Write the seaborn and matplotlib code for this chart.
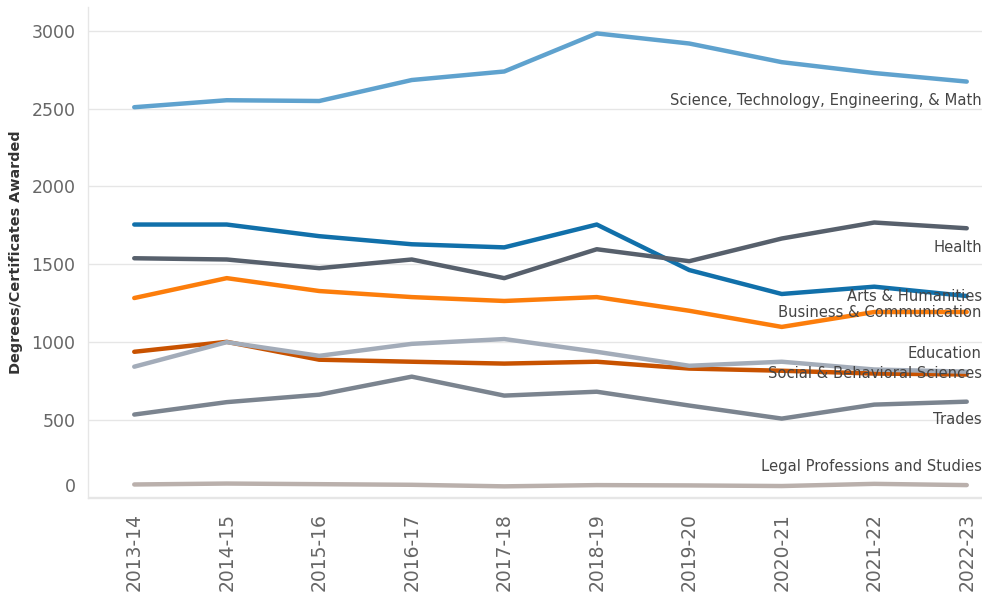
import numpy as np
import pandas as pd
import matplotlib
matplotlib.use("Agg")
import matplotlib.pyplot as plt
import matplotlib.transforms as mtransforms
import seaborn as sns

# Academic years on the x axis
years = ["2013-14", "2014-15", "2015-16", "2016-17", "2017-18",
         "2018-19", "2019-20", "2020-21", "2021-22", "2022-23"]

# Degrees / certificates awarded per field
stem = [2510, 2555, 2550, 2685, 2740, 2985, 2920, 2800, 2730, 2675]
arts = [1755, 1755, 1680, 1628, 1608, 1755, 1462, 1308, 1355, 1295]
health = [1538, 1530, 1474, 1530, 1410, 1596, 1519, 1665, 1768, 1731]
business = [1282, 1410, 1327, 1288, 1263, 1288, 1200, 1096, 1192, 1192]
education = [936, 1000, 885, 872, 860, 872, 828, 814, 796, 790]
social = [840, 998, 910, 987, 1018, 936, 846, 872, 822, 808]
trades = [532, 612, 660, 776, 654, 679, 590, 506, 596, 615]
legal = [82, 88, 84, 80, 70, 78, 76, 72, 86, 78]

fields = ["Science, Technology, Engineering, & Math", "Arts & Humanities", "Health",
          "Business & Communication", "Education", "Social & Behavioral Sciences",
          "Trades", "Legal Professions and Studies"]
series = [stem, arts, health, business, education, social, trades, legal]

colors = ["#5fa2ce", "#1170aa", "#57606c", "#fc7d0b", "#c85200", "#a3acb9",
          "#7b848f", "#bab0ac"]
# label offsets (pixels) from the last point
label_dy = [-19, 0, -19, 0, 21, -2, -18, 19]

rows = []
for f, vals in zip(fields, series):
    for y, v in zip(years, vals):
        rows.append({"year": y, "field": f, "awarded": v})
df = pd.DataFrame(rows)

sns.set_style("white")
plt.rcParams["font.family"] = ["DejaVu Sans"]

fig = plt.figure(figsize=(9.82, 5.92), dpi=100)
# pane runs past the right edge of the image, like the original
ax = fig.add_axes([88 / 982, 1 - 498 / 592, 925 / 982, 491 / 592])

sns.lineplot(data=df, x="year", y="awarded", hue="field", hue_order=fields,
             palette=dict(zip(fields, colors)), linewidth=3.2, ax=ax,
             legend=False, sort=False)

ax.set_xlim(-0.5, 9.5)
ax.set_ylim(-5, 3155)
ax.set_yticks(range(0, 3001, 500))
ax.grid(axis="y", color="#e6e6e6", linewidth=1)
ax.set_axisbelow(True)

for s in ["top", "right"]:
    ax.spines[s].set_visible(False)
for s in ["left", "bottom"]:
    ax.spines[s].set_color("#e6e6e6")
    ax.spines[s].set_linewidth(1)

ax.tick_params(axis="y", length=0, pad=9, labelsize=12.5, labelcolor="#666666")
ax.tick_params(axis="x", which="major", length=0, pad=11, labelsize=13.5,
               labelcolor="#666666", rotation=90)
ax.set_xticks(np.arange(-0.5, 10, 1), minor=True)
ax.tick_params(axis="x", which="minor", length=7, color="#e6e6e6", width=1)

# the "0" label sits a little above the axis line
for lab in ax.get_yticklabels():
    if lab.get_text() == "0":
        lab.set_transform(lab.get_transform() +
                          mtransforms.ScaledTranslation(0, 12 / 100, fig.dpi_scale_trans))

ax.set_xlabel("")
ax.set_ylabel("Degrees/Certificates Awarded", fontsize=10.4, fontweight="bold",
              color="#333333", labelpad=6)

for f, vals, dy in zip(fields, series, label_dy):
    ax.annotate(f, xy=(len(years) - 1, vals[-1]), xytext=(15, dy),
                textcoords="offset pixels", ha="right", va="center",
                fontsize=10.6, color="#444444")

fig.savefig("out.png", dpi=100)
